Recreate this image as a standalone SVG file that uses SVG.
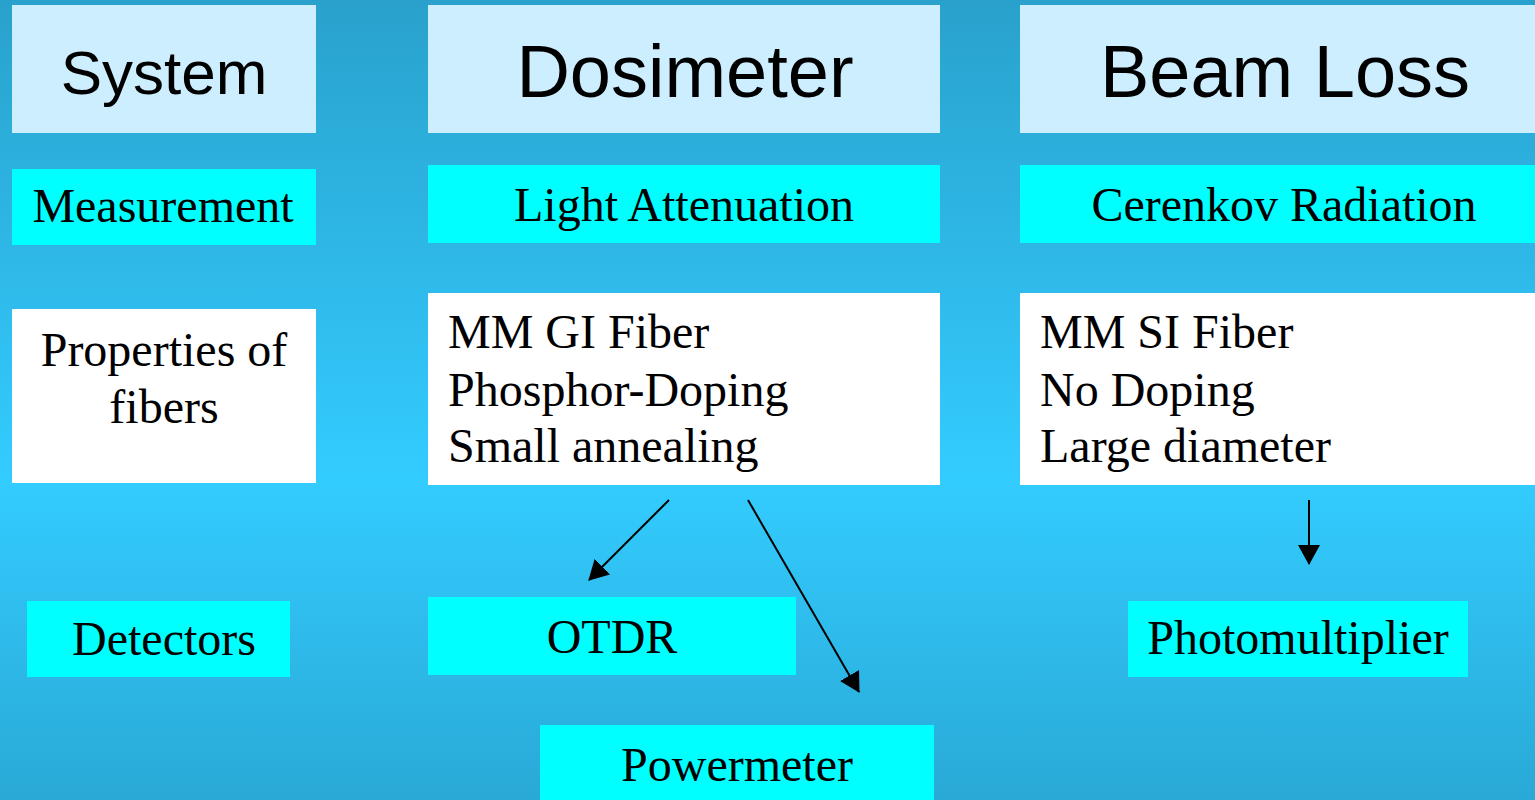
<svg xmlns="http://www.w3.org/2000/svg" width="1535" height="800" viewBox="0 0 1535 800">
<defs>
<linearGradient id="bg" x1="0" y1="0" x2="0" y2="1">
<stop offset="0" stop-color="#29a1cc"/>
<stop offset="0.6" stop-color="#33ccff"/>
<stop offset="1" stop-color="#29a9d6"/>
</linearGradient>
<marker id="ah" viewBox="0 0 20 22" refX="19" refY="11" markerWidth="20" markerHeight="22" markerUnits="userSpaceOnUse" orient="auto">
<path d="M0,0 L20,11 L0,22 Z" fill="#000"/>
</marker>
<style>
.hdr{fill:#cceeff}
.cy{fill:#00ffff}
.wh{fill:#ffffff}
.sans{font-family:"Liberation Sans",Arial,sans-serif;fill:#000}
.serif{font-family:"Liberation Serif","Times New Roman",serif;font-size:48px;fill:#000}
.c{text-anchor:middle}
.conn{stroke:#000;stroke-width:2;fill:none;marker-end:url(#ah)}
</style>
</defs>
<rect x="0" y="0" width="1535" height="800" fill="url(#bg)"/>
<g id="system"><rect class="hdr" x="12" y="5" width="304" height="128"/><text class="sans c" x="164" y="94" font-size="62">System</text></g>
<g id="dosimeter"><rect class="hdr" x="428" y="5" width="512" height="128"/><text class="sans c" x="685" y="97" font-size="74">Dosimeter</text></g>
<g id="beamloss"><rect class="hdr" x="1020" y="5" width="515" height="128"/><text class="sans c" x="1285" y="97" font-size="74">Beam Loss</text></g>
<g id="measurement"><rect class="cy" x="12" y="169" width="304" height="76"/><text class="serif c" x="163" y="222">Measurement</text></g>
<g id="lightatt"><rect class="cy" x="428" y="165" width="512" height="78"/><text class="serif c" x="684" y="221">Light Attenuation</text></g>
<g id="cerenkov"><rect class="cy" x="1020" y="165" width="515" height="78"/><text class="serif c" x="1284" y="221">Cerenkov Radiation</text></g>
<g id="properties"><rect class="wh" x="12" y="309" width="304" height="174"/><text class="serif c" x="164" y="366">Properties of</text><text class="serif c" x="164" y="423">fibers</text></g>
<g id="dosprops"><rect class="wh" x="428" y="293" width="512" height="192"/><text class="serif" x="448" y="348">MM GI Fiber</text><text class="serif" x="448" y="406">Phosphor-Doping</text><text class="serif" x="448" y="462">Small annealing</text></g>
<g id="beamprops"><rect class="wh" x="1020" y="293" width="515" height="192"/><text class="serif" x="1040" y="348">MM SI Fiber</text><text class="serif" x="1040" y="406">No Doping</text><text class="serif" x="1040" y="462">Large diameter</text></g>
<g id="detectors"><rect class="cy" x="27" y="601" width="263" height="76"/><text class="serif c" x="164" y="655">Detectors</text></g>
<g id="otdr"><rect class="cy" x="428" y="597" width="368" height="78"/><text class="serif c" x="612" y="653">OTDR</text></g>
<g id="photomultiplier"><rect class="cy" x="1128" y="601" width="340" height="76"/><text class="serif c" x="1298" y="654">Photomultiplier</text></g>
<g id="powermeter"><rect class="cy" x="540" y="725" width="394" height="75"/><text class="serif c" x="737" y="781">Powermeter</text></g>
<g id="connectors">
<line class="conn" x1="669" y1="500" x2="589" y2="580"/>
<line class="conn" x1="748" y1="500" x2="859" y2="692"/>
<line class="conn" x1="1309" y1="500" x2="1309" y2="564"/>
</g>
</svg>
